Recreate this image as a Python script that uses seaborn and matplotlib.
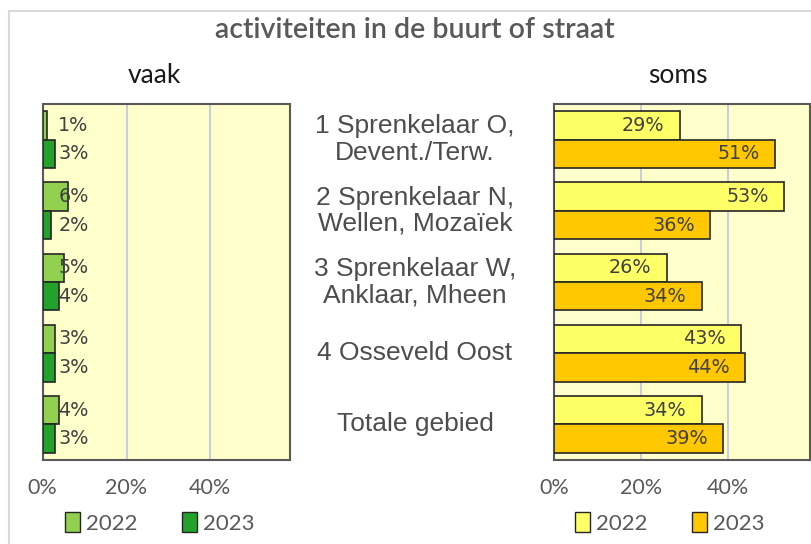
import matplotlib
matplotlib.use("Agg")
import matplotlib.pyplot as plt
import matplotlib.transforms as mtransforms
from matplotlib.patches import Patch
from matplotlib.lines import Line2D
import seaborn as sns
import pandas as pd

# ---- data -------------------------------------------------------------
categories = [
    "1 Sprenkelaar O,\nDevent./Terw.",
    "2 Sprenkelaar N,\nWellen, Mozaïek",
    "3 Sprenkelaar W,\nAnklaar, Mheen",
    "4 Osseveld Oost",
    "Totale gebied",
]
years = ["2022", "2023"]
vaak_2022 = [1, 6, 5, 3, 4]
vaak_2023 = [3, 2, 4, 3, 3]
soms_2022 = [29, 53, 26, 43, 34]
soms_2023 = [51, 36, 34, 44, 39]
x_ticks = [0, 20, 40]

title = "activiteiten in de buurt of straat"
panel_titles = ["vaak", "soms"]

# ---- style ------------------------------------------------------------
sns.set_theme(style="white")
plt.rcParams["font.family"] = ["DejaVu Sans"]

narrow = ["Lato", "DejaVu Sans"]
arial = ["Liberation Sans", "DejaVu Sans"]
green = ["#92D050", "#22A22A"]
yellow = ["#FFFF66", "#FFC800"]
bg = "#FFFFCC"
edge = "#262626"
label_col = "#404040"
axis_col = "#595959"


def long_frame(a, b):
    return pd.DataFrame({
        "cat": categories * 2,
        "year": [years[0]] * len(categories) + [years[1]] * len(categories),
        "value": list(a) + list(b),
    })


fig = plt.figure(figsize=(8.11, 5.44), dpi=100)
W, H = 811, 544


def px_axes(x0, y0, x1, y1):
    return fig.add_axes([x0 / W, 1 - y1 / H, (x1 - x0) / W, (y1 - y0) / H])


ax_l = px_axes(42.7, 104, 290, 460)
ax_r = px_axes(554, 104, 810, 460)

panels = [
    (ax_l, long_frame(vaak_2022, vaak_2023), green),
    (ax_r, long_frame(soms_2022, soms_2023), yellow),
]

for ax, df, pal in panels:
    sns.barplot(data=df, y="cat", x="value", hue="year", orient="h",
                palette=pal, saturation=1, ax=ax, edgecolor=edge,
                linewidth=1.2, legend=False, order=categories,
                hue_order=years, zorder=3)
    ax.set_facecolor(bg)
    ax.set_xlim(0, 59)
    ax.set_ylim(4.5, -0.5)
    ax.set_xticks(x_ticks)
    ax.set_xticklabels([f"{t}%" for t in x_ticks], family=narrow,
                       fontsize=15.5, color=axis_col)
    ax.tick_params(axis="x", length=0, pad=13)
    ax.set_yticks([])
    ax.set_xlabel("")
    ax.set_ylabel("")
    ax.grid(axis="x", color="#C9CEDD", linewidth=1.5, zorder=0)
    ax.set_axisbelow(True)
    for sp in ax.spines.values():
        sp.set_color(axis_col)
        sp.set_linewidth(1.5)
        sp.set_visible(True)

# value labels: left panel at a fixed spot near the base, right panel inside end
for cont in ax_l.containers:
    for bar in cont:
        v = bar.get_width()
        ax_l.annotate(f"{v:.0f}%", (0, bar.get_y() + bar.get_height() / 2),
                      xytext=(33, 0), textcoords="offset points",
                      ha="right", va="center", fontsize=13.8, color=label_col,
                      zorder=5)
for cont in ax_r.containers:
    for bar in cont:
        v = bar.get_width()
        ax_r.annotate(f"{v:.0f}%", (v, bar.get_y() + bar.get_height() / 2),
                      xytext=(-11, 0), textcoords="offset points",
                      ha="right", va="center", fontsize=13.8, color=label_col,
                      zorder=5)

# category names between the two panels
trans = mtransforms.blended_transform_factory(fig.transFigure, ax_l.transData)
for i, name in enumerate(categories):
    fig.text(415 / W, i, name, transform=trans, ha="center", va="center",
             family=arial, fontsize=19, color="#4d4d4d", linespacing=1.12)

# titles
fig.text(415 / W, 1 - 30 / H, title, ha="center", va="center",
         family=narrow, fontsize=20.5, fontweight="semibold", color=axis_col)
fig.text(154 / W, 1 - 75 / H, panel_titles[0], ha="center", va="center",
         family=narrow, fontsize=19, color="#1a1a1a")
fig.text(678 / W, 1 - 75 / H, panel_titles[1], ha="center", va="center",
         family=narrow, fontsize=19, color="#1a1a1a")

# legends
for cx, pal in [(160, green), (670, yellow)]:
    handles = [Patch(facecolor=c, edgecolor=edge, linewidth=1.0) for c in pal]
    fig.legend(handles, years, loc="center", bbox_to_anchor=(cx / W, 1 - 523 / H),
               ncol=2, frameon=False, handlelength=0.65, handleheight=1.0,
               handletextpad=0.3, columnspacing=2.0,
               prop={"family": narrow, "size": 16}, labelcolor=axis_col)

# light chart-area border along top and left
fig.add_artist(Line2D([8.5 / W, 1], [1 - 10.5 / H, 1 - 10.5 / H],
                      transform=fig.transFigure, color="#D9D9D9", linewidth=1.5))
fig.add_artist(Line2D([8.5 / W, 8.5 / W], [0, 1 - 10.5 / H],
                      transform=fig.transFigure, color="#D9D9D9", linewidth=1.5))

fig.savefig("out.png", dpi=100, facecolor="white")
